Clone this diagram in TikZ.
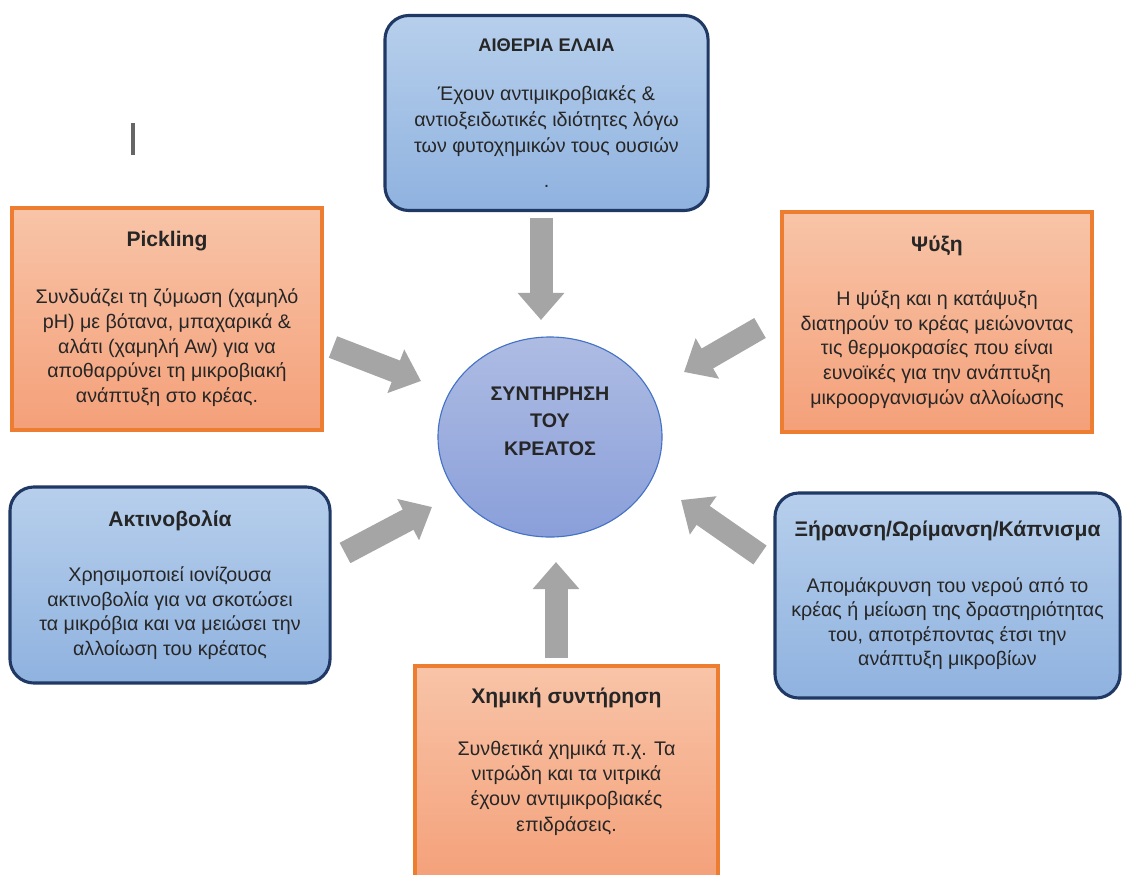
\documentclass[tikz,border=0pt]{standalone}
\usepackage{fontspec}
\setmainfont{Liberation Sans}
\usepackage{tikz}
\usetikzlibrary{positioning,arrows.meta,shapes.geometric}
\usepackage{xcolor}
\definecolor{navyline}{HTML}{203864}
\definecolor{bluetop}{HTML}{B7CFEC}
\definecolor{bluebot}{HTML}{8FB2DF}
\definecolor{orangeline}{HTML}{ED7D31}
\definecolor{orangetop}{HTML}{F8C4A8}
\definecolor{orangebot}{HTML}{F4A079}
\definecolor{coreline}{HTML}{4472C4}
\definecolor{coretop}{HTML}{AEBCE3}
\definecolor{corebot}{HTML}{8A9FDA}
\definecolor{arrowgray}{HTML}{A5A5A5}

\begin{document}
\begin{tikzpicture}[x=0.025cm, y=-0.025cm, font=\fontsize{14}{17.5}\selectfont,
  card/.style={draw, line width=2.2pt, align=center, inner sep=4pt, text=black!85},
  bluecard/.style={card, rounded corners=0.6cm, draw=navyline, top color=bluetop, bottom color=bluebot},
  orangecard/.style={card, line width=2.8pt, draw=orangeline, top color=orangetop, bottom color=orangebot},
  core/.style={ellipse, draw=coreline, line width=0.8pt, top color=coretop, bottom color=corebot,
    minimum width=5.6cm, minimum height=5cm, align=center, text=black!85,
    font=\fontsize{14}{19.5}\selectfont\bfseries},
  fat/.style={draw=arrowgray, line width=0.575cm, -{Triangle[width=1.125cm,length=0.675cm]}}]
\useasboundingbox (0,0) rectangle (1122,874);
\fill[white] (0,0) rectangle (1122,874);
\fill[black!60] (131,123) rectangle (135,155);
% centre
\node[core] (meat) at (550,437) {ΣΥΝΤΗΡΗΣΗ\\ΤΟΥ\\ΚΡΕΑΤΟΣ\\[3pt]\mbox{}};
% methods
\node[bluecard, minimum width=8.075cm, minimum height=4.875cm, font=\fontsize{14}{18.3}\selectfont] (oils) at (546.5,113)
  {{\fontsize{13}{16}\selectfont\bfseries ΑΙΘΕΡΙΑ ΕΛΑΙΑ}\\[17pt]
   Έχουν αντιμικροβιακές \&\\ αντιοξειδωτικές ιδιότητες λόγω\\ των φυτοχημικών τους ουσιών\\[7pt] .};
\node[orangecard, minimum width=7.75cm, minimum height=5.55cm] (pickle) at (167,319)
  {{\fontsize{15}{18}\selectfont\bfseries Pickling}\\[23pt]
   Συνδυάζει τη ζύμωση (χαμηλό\\ pH) με βότανα, μπαχαρικά \&\\ αλάτι (χαμηλή Aw) για να\\
   αποθαρρύνει τη μικροβιακή\\ ανάπτυξη στο κρέας.};
\node[orangecard, minimum width=7.75cm, minimum height=5.5cm] (chill) at (937,322)
  {{\fontsize{15}{18}\selectfont\bfseries Ψύξη}\\[21pt]
   Η ψύξη και η κατάψυξη\\ διατηρούν το κρέας μειώνοντας\\ τις θερμοκρασίες που είναι\\
   ευνοϊκές για την ανάπτυξη\\ μικροοργανισμών αλλοίωσης};
\node[bluecard, minimum width=8cm, minimum height=4.9cm] (rays) at (170,585)
  {{\fontsize{15}{18}\selectfont\bfseries Ακτινοβολία}\\[22pt]
   Χρησιμοποιεί ιονίζουσα\\ ακτινοβολία για να σκοτώσει\\ τα μικρόβια και να μειώσει την\\ αλλοίωση του κρέατος};
\node[bluecard, minimum width=8.625cm, minimum height=5.125cm] (dry) at (947.5,595.5)
  {{\fontsize{15}{18}\selectfont\bfseries Ξήρανση/Ωρίμανση/Κάπνισμα}\\[22pt]
   Απομάκρυνση του νερού από το\\ κρέας ή μείωση της δραστηριότητας\\ του, αποτρέποντας έτσι την\\ ανάπτυξη μικροβίων};
\node[orangecard, minimum width=7.575cm, minimum height=5.45cm, font=\fontsize{14}{18}\selectfont] (chem) at (566.5,775)
  {{\fontsize{15}{18}\selectfont\bfseries Χημική συντήρηση}\\[19pt]
   Συνθετικά χημικά π.χ. Τα\\ νιτρώδη και τα νιτρικά\\ έχουν αντιμικροβιακές\\ επιδράσεις.\\[4pt]\mbox{}};
% block arrows
\coordinate (oilsA) at (541,218);  \coordinate (oilsB) at (541,320);
\coordinate (pickA) at (333,347);  \coordinate (pickB) at (421,381);
\coordinate (raysA) at (345,553);  \coordinate (raysB) at (432,507);
\coordinate (chillA) at (760,328); \coordinate (chillB) at (684,372);
\coordinate (dryA) at (760,555);   \coordinate (dryB) at (681,500);
\coordinate (chemA) at (556,658);  \coordinate (chemB) at (556,562);
\foreach \m in {oils,pick,rays,chill,dry,chem}
  \draw[fat] (\m A) -- (\m B);
\end{tikzpicture}
\end{document}
